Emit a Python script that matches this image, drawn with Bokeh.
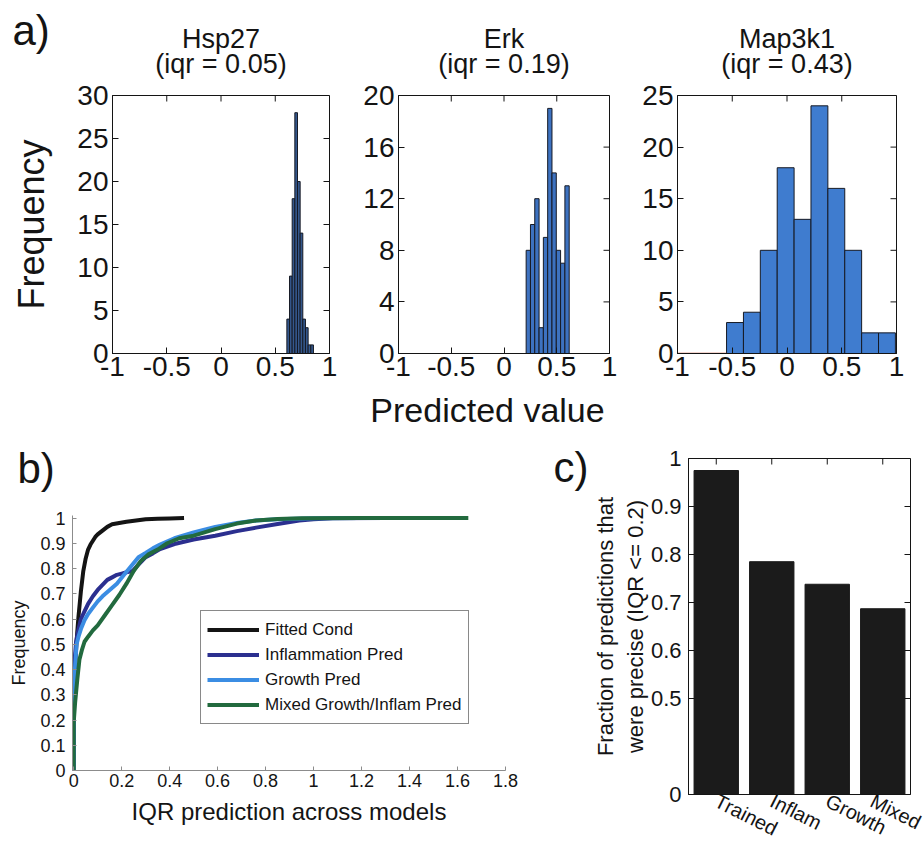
import numpy as np
from bokeh.plotting import figure
from bokeh.models import (Range1d, FixedTicker, Label, Legend, LegendItem, FactorRange,
                          ColumnDataSource)
from bokeh.transform import dodge
from bokeh.layouts import row, column
from bokeh.embed import file_html
from bokeh.resources import INLINE

FONT = "Liberation Sans"
INK = "#141414"

# ---------------- panel a: predicted values across the model ensemble ----------------
genes = ["Hsp27", "Erk", "Map3k1"]
gene_iqr = ["0.05", "0.19", "0.43"]
hsp27_counts = [4, 9, 18, 28, 20, 14, 4, 3, 1, 1]
erk_counts = [8, 10, 12, 2, 9, 19, 14, 8, 7, 13]
map3k1_counts = [3, 4, 10, 18, 13, 24, 16, 10, 2, 2]
hsp27_span = [0.607, 0.852]
erk_span = [0.21, 0.618]
map3k1_span = [-0.552, 0.99]
freq_top = [30, 20, 25]
freq_ticks = [[0, 5, 10, 15, 20, 25, 30], [0, 4, 8, 12, 16, 20], [0, 5, 10, 15, 20, 25]]
value_ticks = [-1, -0.5, 0, 0.5, 1]
value_tick_labels = ["-1", "-0.5", "0", "0.5", "1"]

# ---------------- panel b: cumulative distribution of IQR per prediction set ----------------
fitted_x = [0, 0, 0.005, 0.01, 0.015, 0.02, 0.025, 0.03, 0.035, 0.04, 0.05, 0.06, 0.07, 0.08,
            0.09, 0.10, 0.12, 0.14, 0.16, 0.19, 0.22, 0.26, 0.30, 0.35, 0.40, 0.46]
fitted_y = [0, 0.30, 0.40, 0.48, 0.55, 0.61, 0.66, 0.71, 0.75, 0.79, 0.84, 0.875, 0.895, 0.91,
            0.925, 0.935, 0.95, 0.965, 0.975, 0.98, 0.985, 0.99, 0.995, 0.997, 0.998, 1.0]
inflam_x = [0, 0, 0.005, 0.01, 0.02, 0.03, 0.045, 0.06, 0.08, 0.10, 0.12, 0.14, 0.16, 0.18, 0.20,
            0.22, 0.245, 0.27, 0.30, 0.33, 0.36, 0.42, 0.50, 0.59, 0.68, 0.76, 0.85, 0.94, 1.0,
            1.08, 1.3, 1.63]
inflam_y = [0, 0.38, 0.45, 0.51, 0.56, 0.60, 0.63, 0.66, 0.69, 0.715, 0.735, 0.755, 0.765, 0.775,
            0.78, 0.785, 0.79, 0.815, 0.845, 0.86, 0.877, 0.897, 0.915, 0.93, 0.948, 0.962, 0.976,
            0.99, 0.995, 0.999, 1.0, 1.0]
growth_x = [0, 0, 0.005, 0.012, 0.02, 0.03, 0.045, 0.06, 0.08, 0.10, 0.12, 0.15, 0.18, 0.21, 0.24,
            0.27, 0.30, 0.33, 0.36, 0.42, 0.50, 0.59, 0.68, 0.76, 0.85, 1.0, 1.2, 1.64]
growth_y = [0, 0.25, 0.40, 0.50, 0.53, 0.56, 0.595, 0.62, 0.645, 0.67, 0.69, 0.715, 0.74, 0.775,
            0.81, 0.845, 0.862, 0.88, 0.895, 0.92, 0.943, 0.965, 0.98, 0.99, 0.995, 0.999, 1.0, 1.0]
mixed_x = [0, 0, 0.006, 0.015, 0.024, 0.035, 0.045, 0.06, 0.08, 0.10, 0.13, 0.16, 0.19, 0.22, 0.25,
           0.28, 0.31, 0.35, 0.39, 0.44, 0.50, 0.59, 0.68, 0.76, 0.85, 0.95, 1.2, 1.645]
mixed_y = [0, 0.19, 0.27, 0.36, 0.44, 0.48, 0.51, 0.53, 0.555, 0.575, 0.615, 0.655, 0.695, 0.74,
           0.79, 0.83, 0.855, 0.875, 0.90, 0.92, 0.93, 0.956, 0.978, 0.99, 0.996, 0.999, 1.0, 1.0]
cdf_names = ["Fitted Cond", "Inflammation Pred", "Growth Pred", "Mixed Growth/Inflam Pred"]
cdf_colors = ["#141414", "#2b2f8f", "#3b8de3", "#226a3e"]
iqr_ticks = [0, 0.2, 0.4, 0.6, 0.8, 1, 1.2, 1.4, 1.6, 1.8]
iqr_tick_labels = ["0", "0.2", "0.4", "0.6", "0.8", "1", "1.2", "1.4", "1.6", "1.8"]
cdf_ticks = [0, 0.1, 0.2, 0.3, 0.4, 0.5, 0.6, 0.7, 0.8, 0.9, 1]
cdf_tick_labels = ["0", "0.1", "0.2", "0.3", "0.4", "0.5", "0.6", "0.7", "0.8", "0.9", "1"]

# ---------------- panel c: share of precise predictions ----------------
pred_sets = ["Trained", "Inflam", "Growth", "Mixed"]
precise_fraction = [0.975, 0.785, 0.738, 0.687]
frac_ticks = [0.5, 0.6, 0.7, 0.8, 0.9, 1.0]
frac_tick_labels = ["0.5", "0.6", "0.7", "0.8", "0.9", "1"]
AXIS_FLOOR = 0.3   # broken axis: the bottom of the frame is labelled 0


def style_axis(ax, size, tick_in=6):
    ax.major_label_text_font = FONT
    ax.major_label_text_font_size = size
    ax.major_label_text_color = INK
    ax.axis_line_color = INK
    ax.major_tick_line_color = INK
    ax.major_tick_in = tick_in
    ax.major_tick_out = 0
    ax.minor_tick_line_color = None
    ax.axis_label_text_font = FONT
    ax.axis_label_text_font_style = "normal"
    ax.axis_label_text_color = INK


def edge_ticks(p, xs, ys, vertical):
    # short inward tick marks on the top / right frame edges (the frame clips the outer half)
    p.scatter(x=xs, y=ys, marker="dash", size=12, angle=np.pi / 2 if vertical else 0.0,
              line_color=INK, line_width=1)


def text(p, s, x, y, size, align="center", baseline="middle", angle=0.0):
    p.add_layout(Label(x=x, y=y, x_units="screen", y_units="screen", text=s,
                       text_font=FONT, text_font_size=size, text_color=INK,
                       text_align=align, text_baseline=baseline, angle=angle))


def base_fig(width, height, x_range, y_range, left, right, top, bottom):
    p = figure(width=width, height=height, x_range=x_range, y_range=y_range,
               output_backend="svg", toolbar_location=None, frame_align=False,
               min_border_left=left, min_border_right=right,
               min_border_top=top, min_border_bottom=bottom)
    p.grid.visible = False
    p.background_fill_color = "white"
    p.border_fill_color = "white"
    return p


def text_strip(width, height):
    # an axis-free canvas whose frame fills it, used for headings and panel letters
    p = figure(width=width, height=height, output_backend="svg", toolbar_location=None,
               frame_align=False, x_axis_type=None, y_axis_type=None,
               min_border=0, min_border_left=0, min_border_right=0,
               min_border_top=0, min_border_bottom=0,
               x_range=Range1d(0, 1), y_range=Range1d(0, 1))
    p.outline_line_color = None
    p.grid.visible = False
    p.background_fill_color = "white"
    p.border_fill_color = "white"
    return p


hist_counts = [hsp27_counts, erk_counts, map3k1_counts]
hist_spans = [hsp27_span, erk_span, map3k1_span]
hist_fills = ["#34578c", "#3d72c0", "#3f7ccf"]
# canvas width, left border, right border for the three histograms
hist_boxes = [(355, 112, 26), (283, 43, 29), (286, 39, 28)]
HEAD_H, ROW_H, FOOT_H = 79, 309, 42
A_TOP = 16
A_BOTTOM = ROW_H - A_TOP - 258

head = text_strip(924, HEAD_H)
text(head, "a)", 12, HEAD_H - 30, "42px", align="left")

hist_figs = []
x0 = 0
for i in range(3):
    w, bl, br = hist_boxes[i]
    counts = hist_counts[i]
    lo, hi = hist_spans[i]
    edges = np.linspace(lo, hi, len(counts) + 1)
    p = base_fig(w, ROW_H, Range1d(-1, 1), Range1d(0, freq_top[i]), bl, br, A_TOP, A_BOTTOM)
    p.quad(left=edges[:-1], right=edges[1:], bottom=0, top=counts,
           fill_color=hist_fills[i], line_color="#161a24", line_width=1)
    if i == 2:
        p.line(x=[-1, edges[0]], y=[0, 0], line_color="#c9503a", line_width=1.5)
    p.outline_line_color = INK
    p.outline_line_width = 1

    p.xaxis.ticker = FixedTicker(ticks=value_ticks)
    p.xaxis.major_label_overrides = dict(zip(value_ticks, value_tick_labels))
    p.yaxis.ticker = FixedTicker(ticks=freq_ticks[i])
    p.yaxis.major_label_overrides = {t: str(t) for t in freq_ticks[i]}
    style_axis(p.xaxis[0], "28px")
    style_axis(p.yaxis[0], "28px")
    p.xaxis.major_label_standoff = 3
    p.yaxis.major_label_standoff = 4
    edge_ticks(p, value_ticks[1:-1], [freq_top[i]] * (len(value_ticks) - 2), True)
    edge_ticks(p, [1] * len(freq_ticks[i]), freq_ticks[i], False)

    centre = x0 + bl + (w - bl - br) / 2
    text(head, genes[i], centre, HEAD_H - 38, "27px")
    text(head, f"(iqr = {gene_iqr[i]})", centre, HEAD_H - 63, "27px")
    hist_figs.append(p)
    x0 += w

left_axis = hist_figs[0].yaxis[0]
left_axis.axis_label = "Frequency"
left_axis.axis_label_text_font_size = "36px"
left_axis.axis_label_standoff = 22

foot = text_strip(924, FOOT_H)
text(foot, "Predicted value", 487, FOOT_H - 21, "34px")

panel_a = column(head, row(*hist_figs), foot)

# ---------------- panel b ----------------
BOT_H = 422
B_HEAD = 70
b_head = text_strip(545, B_HEAD)
text(b_head, "b)", 17, B_HEAD - 38, "42px", align="left")

pb = base_fig(545, BOT_H - B_HEAD, Range1d(-0.005, 1.8), Range1d(0, 1.01), 72, 40, 15, 82)
pb.outline_line_color = None
cdf_series = [(fitted_x, fitted_y), (inflam_x, inflam_y), (growth_x, growth_y), (mixed_x, mixed_y)]
items = []
for (xs, ys), name, col in zip(cdf_series, cdf_names, cdf_colors):
    r = pb.line(x=xs, y=ys, line_color=col, line_width=4, line_join="round")
    items.append(LegendItem(label=name, renderers=[r]))
pb.xaxis.ticker = FixedTicker(ticks=iqr_ticks)
pb.xaxis.major_label_overrides = dict(zip(iqr_ticks, iqr_tick_labels))
pb.yaxis.ticker = FixedTicker(ticks=cdf_ticks)
pb.yaxis.major_label_overrides = dict(zip(cdf_ticks, cdf_tick_labels))
style_axis(pb.xaxis[0], "18px", tick_in=4)
style_axis(pb.yaxis[0], "18px", tick_in=4)
for ax in (pb.xaxis[0], pb.yaxis[0]):
    ax.axis_line_color = "#8c8c8c"
    ax.major_tick_line_color = "#8c8c8c"
pb.xaxis.major_label_standoff = 3
pb.yaxis.major_label_standoff = 7
pb.xaxis.axis_label = "IQR prediction across models"
pb.xaxis.axis_label_text_font_size = "24px"
pb.xaxis.axis_label_standoff = 8
pb.yaxis.axis_label = "Frequency"
pb.yaxis.axis_label_text_font_size = "18px"
pb.yaxis.axis_label_standoff = 8
legend = Legend(items=items, location=(128, 46), orientation="vertical",
                label_text_font=FONT, label_text_font_size="17px", label_text_color=INK,
                glyph_width=52, glyph_height=25, label_height=25, label_standoff=6,
                spacing=0, padding=6, margin=0,
                border_line_color=INK, border_line_width=1,
                background_fill_color="white", background_fill_alpha=1.0)
pb.add_layout(legend)

panel_b = column(b_head, pb)

# ---------------- panel c ----------------
c_side = text_strip(44, BOT_H)
text(c_side, "c)", 8, BOT_H - 37, "42px", align="left")

pc = base_fig(335, BOT_H, FactorRange(factors=pred_sets), Range1d(AXIS_FLOOR, 1.0),
              92, 14, 28, 53)
pc.vbar(x=pred_sets, top=precise_fraction, bottom=AXIS_FLOOR, width=0.8,
        fill_color="#1b1b1b", line_color="#1b1b1b")
pc.outline_line_color = INK
c_ticks = [AXIS_FLOOR] + frac_ticks
pc.yaxis.ticker = FixedTicker(ticks=c_ticks)
pc.yaxis.major_label_overrides = dict(zip(c_ticks, ["0"] + frac_tick_labels))
style_axis(pc.yaxis[0], "22px")
style_axis(pc.xaxis[0], "20px", tick_in=0)
pc.yaxis.major_label_standoff = 7
pc.xaxis.major_label_orientation = -0.47
pc.xaxis.major_label_standoff = 5
pc.yaxis.axis_label = "Fraction of predictions that\nwere precise (IQR <= 0.2)"
pc.yaxis.axis_label_text_font_size = "22px"
pc.yaxis.axis_label_standoff = 0
edge_ticks(pc, pred_sets, [1.0] * len(pred_sets), True)
right_ticks = ColumnDataSource(dict(cat=[pred_sets[-1]] * len(frac_ticks), y=frac_ticks))
pc.scatter(x=dodge("cat", 0.5, range=pc.x_range), y="y", source=right_ticks,
           marker="dash", size=12, line_color=INK, line_width=1)

layout = column(panel_a, row(panel_b, c_side, pc))
open("out.html", "w").write(file_html(layout, INLINE))
